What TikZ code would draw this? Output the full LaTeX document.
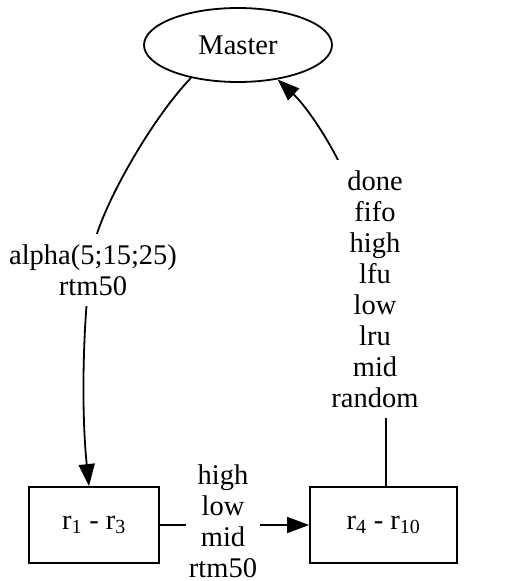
\documentclass[tikz,border=0pt]{standalone}
\usepackage{fontspec}
\setmainfont{Liberation Serif}
\usetikzlibrary{arrows.meta,shapes.geometric}
\begin{document}
\begin{tikzpicture}[x=1pt,y=-1pt,
  every node/.style={font=\fontsize{28.5}{31}\selectfont},
  boxnode/.style={draw,line width=1.8pt,rectangle,minimum height=76pt,inner sep=0pt},
  ellnode/.style={draw,line width=1.8pt,ellipse,minimum width=188pt,minimum height=74pt,inner sep=0pt},
  edgelab/.style={fill=white,align=center,inner xsep=3pt,inner ysep=10pt},
  conn/.style={line width=1.8pt,-{Triangle[length=22pt,width=16pt]}}]
\useasboundingbox (0,0) rectangle (520,581);
\node[ellnode] (master) at (238,45) {Master};
\node[boxnode,minimum width=130pt] (ra) at (94,525) {r\textsubscript{1} - r\textsubscript{3}};
\node[boxnode,minimum width=147pt] (rb) at (383.5,525) {r\textsubscript{4} - r\textsubscript{10}};
% edges
\draw[conn] (master.215) .. controls (155,115) and (108,195) .. (95,240)
  .. controls (84,290) and (80,400) .. ([xshift=-5pt]ra.north);
\draw[conn] ([xshift=2.5pt]rb.north) -- (386,423)
  .. controls (386,330) and (365,215) .. (339,162)
  .. controls (325,134) and (305,105) .. (master.319);
\draw[conn] (ra.east) -- (rb.west);
% labels
\node[edgelab] (la) at (93,270) {alpha(5;15;25)\\rtm50};
\node[edgelab] (lb) at (375,289) {done\\fifo\\high\\lfu\\low\\lru\\mid\\random};
\node[edgelab,inner ysep=0pt] (lc) at (223,521) {high\\low\\mid\\rtm50};
\end{tikzpicture}
\end{document}
